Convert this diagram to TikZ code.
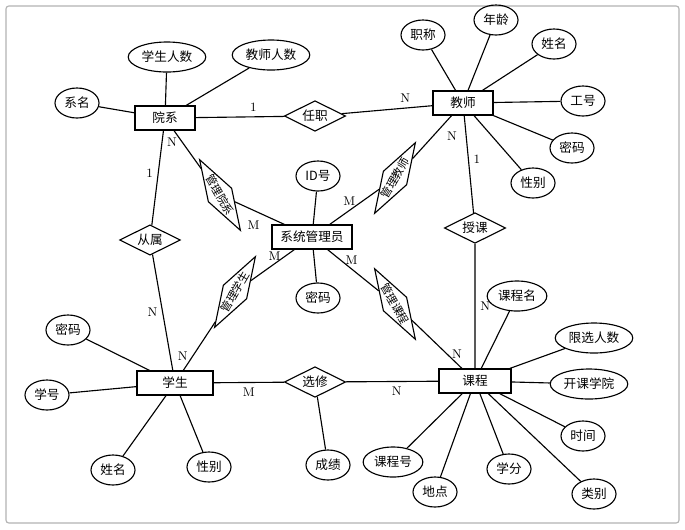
\documentclass[tikz,border=0pt]{standalone}
\usepackage{fontspec}
\newfontfamily\cjk{Noto Sans CJK SC}
\usetikzlibrary{shapes.geometric}
\tikzset{
  entity/.style={draw,thick,minimum width=1.5cm,minimum height=0.6cm,font=\cjk\small},
  relation/.style={draw,thick,diamond,aspect=2,inner sep=1.5pt,font=\cjk\small},
  skewrel/.style={draw,thick,diamond,aspect=3,inner sep=0.5pt,font=\cjk\footnotesize},
  attr/.style={draw,thick,ellipse,inner sep=1.5pt,minimum height=0.75cm,minimum width=1.1cm,font=\cjk\small},
  card/.style={font=\small}
}
\begin{document}
\begin{tikzpicture}[x=0.025cm,y=-0.025cm,thick]
  \useasboundingbox (0,0) rectangle (685,529);
  \draw[gray!60,rounded corners=2pt] (6,6) rectangle (679,523);
  % entities
  \node[entity] (Dept) at (165,118) {院系};
  \node[entity] (Teacher) at (463,103) {教师};
  \node[entity,minimum width=2cm] (Admin) at (312,237) {系统管理员};
  \node[entity,minimum width=1.9cm] (Student) at (175,383) {学生};
  \node[entity,minimum width=1.8cm] (Course) at (475,381) {课程};
  % relations
  \node[relation] (Job) at (315,116) {任职};
  \node[relation] (Belong) at (150,240) {从属};
  \node[relation] (Teach) at (475,228) {授课};
  \node[relation] (Elect) at (315,382) {选修};
  \node[skewrel,rotate=-60] (MgDept) at (220,195) {管理院系};
  \node[skewrel,rotate=60] (MgTeach) at (395,178) {管理教师};
  \node[skewrel,rotate=60] (MgStu) at (235,292) {管理学生};
  \node[skewrel,rotate=-60] (MgCourse) at (395,304) {管理课程};
  % attributes
  \node[attr] (StuNum) at (167,57) {学生人数};
  \node[attr] (TchNum) at (271,55) {教师人数};
  \node[attr] (DName) at (77,103) {系名};
  \node[attr] (Title) at (423,35) {职称};
  \node[attr] (Age) at (496,20) {年龄};
  \node[attr] (TName) at (554,44) {姓名};
  \node[attr] (TId) at (583,101) {工号};
  \node[attr] (TPwd) at (572,148) {密码};
  \node[attr] (TSex) at (533,183) {性别};
  \node[attr] (AId) at (318,176) {ID号};
  \node[attr] (APwd) at (318,298) {密码};
  \node[attr] (SPwd) at (68,330) {密码};
  \node[attr] (SId) at (47,395) {学号};
  \node[attr] (SName) at (113,470) {姓名};
  \node[attr] (SSex) at (209,467) {性别};
  \node[attr] (Grade) at (328,465) {成绩};
  \node[attr] (CName) at (517,296) {课程名};
  \node[attr] (CLimit) at (594,338) {限选人数};
  \node[attr] (CCol) at (589,384) {开课学院};
  \node[attr] (CTime) at (583,436) {时间};
  \node[attr] (CType) at (594,494) {类别};
  \node[attr] (CCredit) at (509,469) {学分};
  \node[attr] (CPlace) at (435,492) {地点};
  \node[attr] (CId) at (393,462) {课程号};
  % connectors
  \foreach \a in {StuNum,TchNum,DName} \draw (Dept) -- (\a);
  \foreach \a in {Title,Age,TName,TId,TPwd,TSex} \draw (Teacher) -- (\a);
  \foreach \a in {AId,APwd} \draw (Admin) -- (\a);
  \foreach \a in {SPwd,SId,SName,SSex} \draw (Student) -- (\a);
  \foreach \a in {CName,CLimit,CCol,CTime,CType,CCredit,CPlace,CId} \draw (Course) -- (\a);
  \draw (Elect) -- (Grade);
  \draw (Dept) -- node[card,above,pos=0.65] {1} (Job) -- node[card,above,pos=0.7] {N} (Teacher);
  \draw (Dept) -- node[card,left,pos=0.45] {1} (Belong) -- node[card,left,pos=0.5] {N} (Student);
  \draw (Teacher) -- node[card,right,pos=0.45] {1} (Teach) -- node[card,right,pos=0.5] {N} (Course);
  \draw (Student) -- node[card,below,pos=0.5] {M} (Elect) -- node[card,below,pos=0.55] {N} (Course);
  \draw (Dept) -- node[card,pos=0.3,left] {N} (MgDept) -- node[card,pos=0.6,below left] {M} (Admin);
  \draw (Teacher) -- node[card,pos=0.25,below right] {N} (MgTeach) -- node[card,pos=0.6,above] {M} (Admin);
  \draw (Admin) -- node[card,pos=0.2,left] {M} (MgStu) -- node[card,pos=0.7,left] {N} (Student);
  \draw (Admin) -- node[card,pos=0.25,right] {M} (MgCourse) -- node[card,pos=0.7,right] {N} (Course);
\end{tikzpicture}
\end{document}
